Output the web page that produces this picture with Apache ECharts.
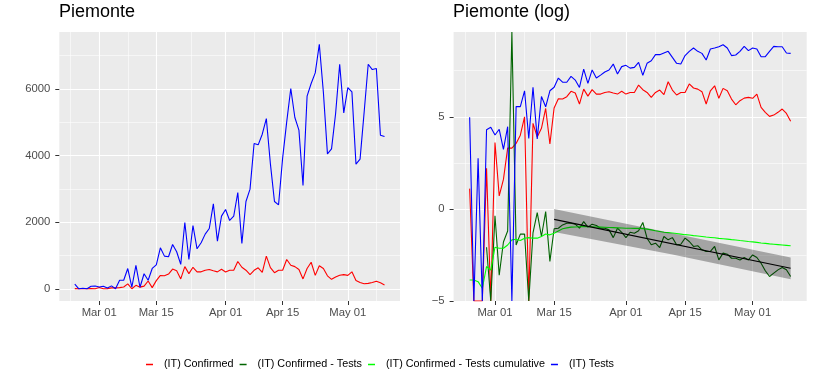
<!DOCTYPE html>
<html>
<head>
<meta charset="utf-8">
<script src="https://cdn.jsdelivr.net/npm/echarts@6/dist/echarts.min.js"></script>
<style>
  html, body { margin: 0; padding: 0; background: #fff; }
  #main { width: 814px; height: 380px; }
</style>
</head>
<body>
<div id="main"></div>
<script>
// days counted from Mar 01 (first point = Feb 24 = -6, last = May 10 = 70)
var firstDay = -6
var tickDays = [0, 14, 31, 45, 61]
var tickLabels = ['Mar 01', 'Mar 15', 'Apr 01', 'Apr 15', 'May 01']
var minorDays = [-7, 7, 22.5, 38, 53, 68]

// left panel (linear)
var confirmed = [3, 0, 0, 0, 9, 0,
  37, 2, 5, 27, 27, 35, 55, 148, 0, 103,
  49, 79, 233, 34, 245, 400, 390, 441, 590, 540,
  296, 665, 454, 645, 508, 508, 556, 578, 539, 508,
  585, 505, 555, 555, 820, 645, 556, 425, 555, 630,
  495, 980, 635, 483, 556, 556, 880, 705, 665, 578,
  296, 608, 795, 403, 690, 608, 388, 284, 354, 407,
  424, 403, 508, 247, 188, 151, 162, 188, 226, 178,
  116]
var tests = [140, 0, 16, 0, 75, 84,
  55, 75, 25, 87, 0, 256, 256, 608, 46, 700,
  45, 450, 256, 610, 720, 1230, 980, 960, 1330, 1110,
  730, 1990, 880, 1900, 1200, 1380, 1640, 1810, 2550, 1430,
  2180, 2380, 2050, 2180, 2890, 1360, 2620, 2990, 4360, 4320,
  4640, 5110, 3750, 2620, 2520, 3920, 5010, 6010, 5140, 4760,
  3100, 5780, 6160, 6480, 7340, 5900, 4050, 4200, 5260, 6740,
  5280, 6040, 5910, 3740, 3890, 5300, 6740, 6580, 6610, 4610,
  4570]

// right panel (log), -5 = bottom edge (-Inf), 9.6 = top edge (+Inf)
var logConfirmed = [1.1, -5, -5, -5, 2.2, -5,
  3.6, 0.7, 1.6, 3.3, 3.3, 3.55, 4.0, 5.0, -5, 4.64,
  3.9, 4.37, 5.45, 3.52, 5.48, 5.98, 5.96, 6.09, 6.38, 6.29,
  5.69, 6.5, 6.12, 6.47, 6.23, 6.23, 6.32, 6.36, 6.29, 6.23,
  6.38, 6.23, 6.32, 6.32, 6.72, 6.47, 6.32, 6.05, 6.32, 6.45,
  6.2, 6.9, 6.45, 6.18, 6.32, 6.32, 6.78, 6.56, 6.5, 6.36,
  5.69, 6.41, 6.68, 6.0, 6.54, 6.41, 5.96, 5.65, 5.87, 6.01,
  6.05, 6.0, 6.23, 5.51, 5.24, 5.02, 5.09, 5.24, 5.42, 5.18,
  4.75]
var logTests = [4.97, -5, 2.75, -5, 4.3, 4.43,
  4.01, 4.32, 3.23, 4.46, -5, 5.55, 5.55, 6.41, 3.82, 6.6,
  3.8, 6.1, 5.54, 6.41, 6.6, 7.1, 6.88, 6.87, 7.19, 6.99,
  6.59, 7.59, 6.81, 7.54, 7.1, 7.26, 7.43, 7.54, 7.86, 7.32,
  7.72, 7.79, 7.64, 7.68, 7.95, 7.25, 7.9, 8.04, 8.37, 8.37,
  8.46, 8.55, 8.22, 7.9, 7.86, 8.32, 8.55, 8.73, 8.55, 8.44,
  8.08, 8.68, 8.73, 8.8, 8.91, 8.73, 8.32, 8.35, 8.55, 8.82,
  8.59, 8.73, 8.68, 8.26, 8.26, 8.55, 8.82, 8.8, 8.8, 8.46,
  8.44]
var logRatio = [-3.87, null, null, null, -2.08, -5,
  -0.37, -3.6, -1.8, -1.2, 9.6, -1.96, -1.37, -1.37, -5, -1.3,
  -0.2, -1.5, -0.15, -2.85, -1.08, -1.05, -0.87, -0.78, -0.78, -0.83,
  -1.05, -0.69, -0.99, -0.83, -0.9, -1.05, -1.05, -1.14, -1.56, -1.05,
  -1.27, -1.56, -1.27, -1.32, -1.19, -0.74, -1.59, -1.95, -1.86, -2.1,
  -1.5, -1.68, -1.56, -1.95, -1.92, -1.59, -1.77, -2.04, -2.0, -2.22,
  -2.31, -2.31, -2.04, -2.77, -2.4, -2.46, -2.68, -2.68, -2.77, -2.64,
  -2.77, -2.5, -2.64, -2.95, -3.36, -3.67, -3.49, -3.31, -3.18, -3.3,
  -3.67]
var logCumRatio = [-3.86, -3.86, -3.95, -4.31, -3.13, -3.32,
  -2.08, -2.14, -2.14, -1.96, -1.68, -1.65, -1.72, -1.59, -1.56, -1.59,
  -1.59, -1.5, -1.36, -1.41, -1.32, -1.2, -1.08, -1.03, -0.99, -0.98,
  -0.97, -0.96, -0.97, -0.97, -0.98, -0.99, -1.0, -1.01, -1.02, -1.03,
  -1.04, -1.05, -1.05, -1.06, -1.06, -1.07, -1.1, -1.14, -1.19, -1.23,
  -1.27, -1.29, -1.31, -1.34, -1.37, -1.4, -1.42, -1.45, -1.47, -1.5,
  -1.53, -1.55, -1.57, -1.6, -1.62, -1.64, -1.67, -1.69, -1.72, -1.74,
  -1.77, -1.79, -1.82, -1.85, -1.87, -1.9, -1.92, -1.94, -1.96, -1.98,
  -2.0]

// linear fit from Mar 15 and its band
var regDays = [14, 70]
var regFit = [-0.57, -3.22]
var bandDays = [14, 42, 70]
var bandLow = [-1.25, -2.47, -3.82]
var bandHigh = [0.0, -1.32, -2.64]

var names = ['(IT) Confirmed', '(IT) Confirmed - Tests', '(IT) Confirmed - Tests cumulative', '(IT) Tests']
var colors = ['#FF0000', '#006400', '#00FF00', '#0000FF']
var font = 'Liberation Sans, Arial, sans-serif'

function pairs(xs, ys) {
  return ys.map(function (v, i) { return [xs[i], v] })
}
var days = confirmed.map(function (v, i) { return firstDay + i })

function xAxisMajor(g) {
  return {
    type: 'value', gridIndex: g, min: -9.8, max: 73.8,
    axisLine: { show: false, onZero: false },
    axisTick: { show: true, customValues: tickDays, length: 4, lineStyle: { color: '#333333', width: 1 } },
    axisLabel: {
      customValues: tickDays, color: '#4D4D4D', fontSize: 11.3, fontFamily: font, margin: 6,
      formatter: function (v) { return tickLabels[tickDays.indexOf(v)] }
    },
    splitLine: { show: true, lineStyle: { color: '#FFFFFF', width: 1.1 } }
  }
}
function xAxisMinor(g) {
  return {
    type: 'value', gridIndex: g, min: -9.8, max: 73.8,
    axisLine: { show: false, onZero: false },
    axisTick: { show: false, customValues: minorDays },
    axisLabel: { show: false, customValues: minorDays },
    splitLine: { show: true, lineStyle: { color: '#FFFFFF', width: 0.55 } }
  }
}
function yAxisMajor(g, min, max, ticks, labels) {
  return {
    type: 'value', gridIndex: g, min: min, max: max,
    axisLine: { show: false, onZero: false },
    axisTick: { show: true, customValues: ticks, length: 4, lineStyle: { color: '#333333', width: 1 } },
    axisLabel: {
      customValues: ticks, color: '#4D4D4D', fontSize: 11.3, fontFamily: font, margin: 9,
      formatter: function (v) { return labels[ticks.indexOf(v)] }
    },
    splitLine: { show: true, lineStyle: { color: '#FFFFFF', width: 1.1 } }
  }
}
function yAxisMinor(g, min, max, ticks) {
  return {
    type: 'value', gridIndex: g, min: min, max: max,
    axisLine: { show: false, onZero: false },
    axisTick: { show: false, customValues: ticks },
    axisLabel: { show: false, customValues: ticks },
    splitLine: { show: true, lineStyle: { color: '#FFFFFF', width: 0.55 } }
  }
}
function line(name, color, xi, yi, data, z) {
  return {
    name: name, type: 'line', xAxisIndex: xi, yAxisIndex: yi,
    data: data, color: color, showSymbol: false, symbol: 'none',
    lineStyle: { color: color, width: 1.1 }, z: z || 2, clip: true
  }
}

var myChart = echarts.init(document.getElementById('main'), null, { renderer: 'canvas' })

myChart.setOption({
  animation: false,
  backgroundColor: '#FFFFFF',
  title: [
    { text: 'Piemonte', left: 59, top: 3, padding: 0, textStyle: { fontSize: 18, fontWeight: 'normal', color: '#000', fontFamily: font } },
    { text: 'Piemonte (log)', left: 453, top: 3, padding: 0, textStyle: { fontSize: 18, fontWeight: 'normal', color: '#000', fontFamily: font } }
  ],
  grid: [
    { left: 59.3, top: 32, width: 340.7, height: 269, show: true, backgroundColor: '#EBEBEB', borderWidth: 0 },
    { left: 453.6, top: 32, width: 353.1, height: 269, show: true, backgroundColor: '#EBEBEB', borderWidth: 0 }
  ],
  legend: {
    data: names, left: 141, top: 354, icon: 'rect', itemWidth: 7, itemHeight: 1.5, itemGap: 6,
    textStyle: { fontSize: 10.8, color: '#000', fontFamily: font, padding: [0, 0, 0, 6] }
  },
  xAxis: [xAxisMajor(0), xAxisMinor(0), xAxisMajor(1), xAxisMinor(1)],
  yAxis: [
    yAxisMajor(0, -367, 7707, [0, 2000, 4000, 6000], ['0', '2000', '4000', '6000']),
    yAxisMinor(0, -367, 7707, [1000, 3000, 5000, 7000]),
    yAxisMajor(1, -5, 9.6, [-5, 0, 5], ['\u22125', '0', '5']),
    yAxisMinor(1, -5, 9.6, [-2.5, 2.5, 7.5])
  ],
  series: [
    line(names[0], colors[0], 0, 0, pairs(days, confirmed)),
    line(names[3], colors[3], 0, 0, pairs(days, tests)),

    line(names[0], colors[0], 2, 2, pairs(days, logConfirmed)),
    line(names[1], colors[1], 2, 2, pairs(days, logRatio)),
    line(names[2], colors[2], 2, 2, pairs(days, logCumRatio)),
    line(names[3], colors[3], 2, 2, pairs(days, logTests)),
    {
      name: 'band', type: 'custom', xAxisIndex: 2, yAxisIndex: 2, z: 3,
      data: [0],
      renderItem: function (params, api) {
        var pts = []
        bandDays.forEach(function (d, i) { pts.push(api.coord([d, bandHigh[i]])) })
        for (var i = bandDays.length - 1; i >= 0; i--) pts.push(api.coord([bandDays[i], bandLow[i]]))
        return { type: 'polygon', shape: { points: pts }, style: { fill: 'rgba(0,0,0,0.3)' } }
      }
    },
    {
      name: 'fit', type: 'line', xAxisIndex: 2, yAxisIndex: 2, data: pairs(regDays, regFit),
      symbol: 'none', lineStyle: { color: '#000000', width: 1.1 }, z: 4
    }
  ]
})
</script>
</body>
</html>
